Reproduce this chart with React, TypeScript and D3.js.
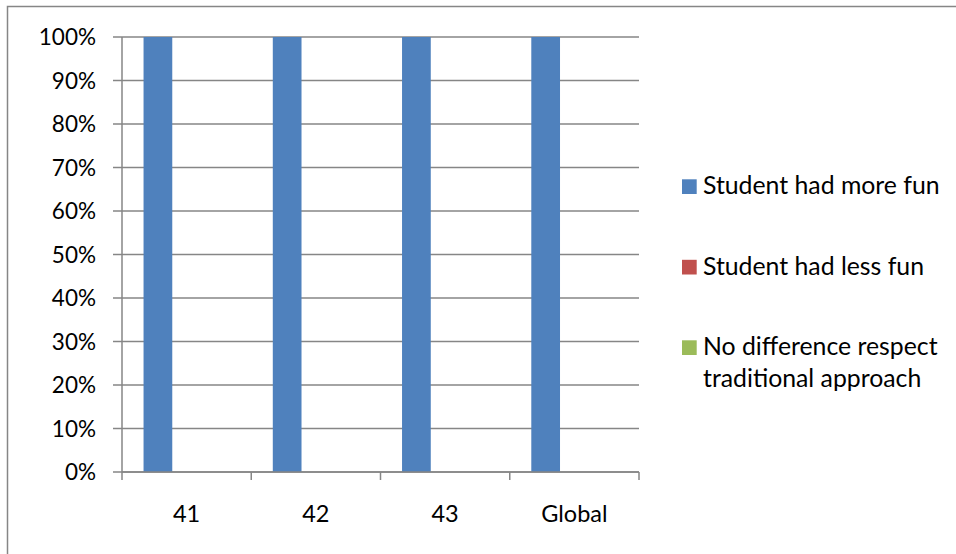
import React from "react";
import * as d3 from "d3";

const categories = ["41", "42", "43", "Global"];
const seriesNames = [
  "Student had more fun",
  "Student had less fun",
  "No difference respect traditional approach",
];
const moreFun = [1, 1, 1, 1];
const lessFun = [0, 0, 0, 0];
const noDifference = [0, 0, 0, 0];
const yTicks = [0, 0.1, 0.2, 0.3, 0.4, 0.5, 0.6, 0.7, 0.8, 0.9, 1];

const seriesValues = [moreFun, lessFun, noDifference];
const colors = ["#4F81BD", "#C0504D", "#9BBB59"];
const legendLines = [["Student had more fun"], ["Student had less fun"], ["No difference respect", "traditional approach"]];

const W = 956;
const H = 554;
const plot = { left: 122, right: 639, top: 37, bottom: 472 };
const FONT = "Lato, 'Liberation Sans', sans-serif";
const grid = "#868686";

export default function App() {
  const x = d3.scaleBand<string>().domain(categories).range([plot.left, plot.right]).paddingInner(0).paddingOuter(0);
  const xs = d3
    .scaleBand<string>()
    .domain(seriesNames)
    .range([0, x.bandwidth()])
    .paddingInner(0)
    .paddingOuter(0.75);
  const y = d3.scaleLinear().domain([0, 1]).range([plot.bottom, plot.top]);
  const fmt = d3.format(".0%");

  const boundaries = categories.map((c) => x(c)!).concat([plot.right]);

  return (
    <svg width={W} height={H} style={{ position: "absolute", left: 0, top: 0, background: "#fff" }}>
      <rect x={7.5} y={6.5} width={W + 10} height={H + 10} fill="#fff" stroke={grid} strokeWidth={1.5} />
      {/* horizontal gridlines and y ticks */}
      {yTicks.map((t) => (
        <g key={t}>
          <line x1={plot.left} x2={plot.right} y1={y(t)} y2={y(t)} stroke={grid} strokeWidth={1.5} />
          <line x1={113} x2={plot.left} y1={y(t)} y2={y(t)} stroke={grid} strokeWidth={1.5} />
          <text x={96} y={y(t)} dy="0.36em" textAnchor="end" fontFamily={FONT} fontSize={22.5} fill="#000">
            {fmt(t)}
          </text>
        </g>
      ))}
      {/* bars */}
      {seriesValues.map((vals, si) =>
        vals.map((v, ci) => (
          <rect
            key={`${si}-${ci}`}
            x={x(categories[ci])! + xs(seriesNames[si])!}
            y={y(v)}
            width={xs.bandwidth()}
            height={plot.bottom - y(v)}
            fill={colors[si]}
          />
        ))
      )}
      {/* axes */}
      <line x1={plot.left} x2={plot.left} y1={plot.top} y2={plot.bottom} stroke={grid} strokeWidth={1.5} />
      <line x1={plot.left} x2={plot.right} y1={plot.bottom} y2={plot.bottom} stroke={grid} strokeWidth={1.5} />
      {boundaries.map((b, i) => (
        <line key={i} x1={b} x2={b} y1={plot.bottom} y2={plot.bottom + 8} stroke={grid} strokeWidth={1.5} />
      ))}
      {categories.map((c) => (
        <text key={c} x={x(c)! + x.bandwidth() / 2} y={521.7} textAnchor="middle" fontFamily={FONT} fontSize={23.5} fill="#000">
          {c}
        </text>
      ))}
      {/* legend */}
      {legendLines.map((lines, i) => {
        const base = 194 + i * 80.5;
        return (
          <g key={i}>
            <rect x={682} y={base - 14.7} width={14.7} height={14.7} fill={colors[i]} />
            {lines.map((ln, j) => (
              <text key={j} x={703} y={base + j * 31.7} fontFamily={FONT} fontSize={24.8} fill="#000">
                {ln}
              </text>
            ))}
          </g>
        );
      })}
    </svg>
  );
}
